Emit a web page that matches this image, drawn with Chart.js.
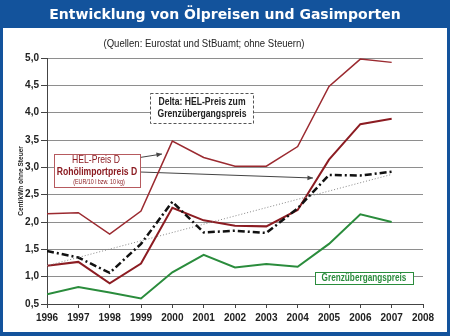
<!DOCTYPE html>
<html>
<head>
<meta charset="utf-8">
<script src="https://cdn.jsdelivr.net/npm/chart.js@4.4.0/dist/chart.umd.min.js"></script>
<style>
  html, body { margin: 0; padding: 0; background: #fff; }
  #wrap { width: 450px; height: 336px; position: relative; }
</style>
</head>
<body>
<div id="wrap"><canvas id="oilChart" width="450" height="336"></canvas></div>
<script>
// ---- data (Cent/kWh ohne Steuer) ----
const years      = [1996, 1997, 1998, 1999, 2000, 2001, 2002, 2003, 2004, 2005, 2006, 2007];
const helPreis   = [2.15, 2.17, 1.78, 2.20, 3.48, 3.18, 3.02, 3.02, 3.38, 4.48, 4.98, 4.92];
const rohoel     = [1.20, 1.27, 0.88, 1.24, 2.26, 2.03, 1.93, 1.92, 2.22, 3.14, 3.79, 3.89];
const grenzPreis = [0.68, 0.81, 0.71, 0.60, 1.08, 1.40, 1.17, 1.23, 1.18, 1.60, 2.14, 2.00];
const deltaPreis = [1.47, 1.35, 1.07, 1.60, 2.37, 1.81, 1.84, 1.80, 2.25, 2.86, 2.85, 2.92];
const trendYears = [1996, 2007];
const trendVals  = [1.20, 2.87];
const yTicks     = [0.5, 1.0, 1.5, 2.0, 2.5, 3.0, 3.5, 4.0, 4.5, 5.0];
const xTicks     = [1996, 1997, 1998, 1999, 2000, 2001, 2002, 2003, 2004, 2005, 2006, 2007, 2008];

const COLORS = {
  frame:   '#13539c',
  hel:     '#9b2a30',
  rohoel:  '#8c1c22',
  green:   '#2a8c3c',
  delta:   '#111111',
  trend:   '#888888',
  grid:    '#8e8e8e',
  axis:    '#444444',
  text:    '#222222',
};
const SANS = "'Liberation Sans', Arial, sans-serif";

const pts = (xs, ys) => xs.map((x, i) => ({ x, y: ys[i] }));

// Arial Narrow look-alike: squeeze Liberation Sans horizontally
function narrowText(c, text, x, y, font, squeeze = 0.82) {
  c.save();
  c.font = font;
  c.translate(x, y);
  c.scale(squeeze, 1);
  c.fillText(text, 0, 0);
  c.restore();
}

// ---- frame, title, subtitle, axis title ----
const framePlugin = {
  id: 'frame',
  beforeDraw(chart) {
    const c = chart.ctx, W = chart.width, H = chart.height;
    c.save();
    c.fillStyle = '#fff';
    c.fillRect(0, 0, W, H);
    c.fillStyle = COLORS.frame;
    c.fillRect(0, 0, W, 28);
    c.fillRect(0, 0, 3, H);
    c.fillRect(W - 3, 0, 3, H);
    c.fillRect(0, H - 4, W, 4);

    // title, fitted to the width of the original
    const title = 'Entwicklung von Ölpreisen und Gasimporten';
    c.font = "bold 20px 'DejaVu Sans', sans-serif";
    const size = 20 * 352 / c.measureText(title).width;
    c.font = `bold ${size.toFixed(1)}px 'DejaVu Sans', sans-serif`;
    c.fillStyle = '#fff';
    c.textAlign = 'center';
    c.textBaseline = 'middle';
    c.fillText(title, 225, 15);

    c.fillStyle = COLORS.text;
    narrowText(c, '(Quellen: Eurostat und StBuamt; ohne Steuern)', 204, 44, `11px ${SANS}`, 0.87);

    c.translate(21, 181);
    c.rotate(-Math.PI / 2);
    narrowText(c, 'Cent/kWh ohne Steuer', 0, 0, `bold 7.5px ${SANS}`, 0.87);
    c.restore();
  }
};

// ---- text boxes and arrows ----
function arrow(c, x1, y1, x2, y2) {
  const a = Math.atan2(y2 - y1, x2 - x1);
  c.beginPath();
  c.moveTo(x1, y1);
  c.lineTo(x2, y2);
  c.stroke();
  c.beginPath();
  c.moveTo(x2, y2);
  c.lineTo(x2 - 6 * Math.cos(a - 0.4), y2 - 6 * Math.sin(a - 0.4));
  c.lineTo(x2 - 6 * Math.cos(a + 0.4), y2 - 6 * Math.sin(a + 0.4));
  c.closePath();
  c.fill();
}

const notesPlugin = {
  id: 'notes',
  beforeDatasetsDraw(chart) {
    const c = chart.ctx;
    c.save();
    c.textAlign = 'center';
    c.textBaseline = 'middle';

    // arrows
    c.strokeStyle = '#444';
    c.fillStyle = '#444';
    c.lineWidth = 1;
    arrow(c, 124, 160, 162, 154);
    arrow(c, 140, 172, 313, 178);

    // Delta box
    c.fillStyle = '#fff';
    c.fillRect(150, 93, 103, 30);
    c.setLineDash([3, 2]);
    c.strokeStyle = '#555';
    c.strokeRect(150.5, 93.5, 103, 30);
    c.setLineDash([]);
    c.fillStyle = COLORS.text;
    narrowText(c, 'Delta: HEL-Preis zum', 202, 102, `bold 10.5px ${SANS}`);
    narrowText(c, 'Grenzübergangspreis', 202, 114, `bold 10.5px ${SANS}`);

    // legend box for the oil prices
    c.fillStyle = '#fff';
    c.fillRect(54, 154, 86, 33);
    c.strokeStyle = '#b65a5e';
    c.strokeRect(54.5, 154.5, 86, 33);
    c.fillStyle = COLORS.rohoel;
    narrowText(c, 'HEL-Preis D', 96, 160, `10.5px ${SANS}`);
    narrowText(c, 'Rohölimportpreis D', 97, 172, `bold 10.5px ${SANS}`);
    narrowText(c, '(EUR/10 l bzw. 10 kg)', 99, 182.5, `6.5px ${SANS}`);

    // Grenzübergangspreis box
    c.fillStyle = '#fff';
    c.fillRect(315, 272, 98, 12);
    c.strokeStyle = COLORS.green;
    c.strokeRect(315.5, 272.5, 98, 12);
    c.fillStyle = COLORS.green;
    narrowText(c, 'Grenzübergangspreis', 364, 278.5, `bold 10px ${SANS}`);
    c.restore();
  }
};

new Chart(document.getElementById('oilChart'), {
  type: 'line',
  data: {
    datasets: [
      {
        label: 'Trend',
        data: pts(trendYears, trendVals),
        borderColor: COLORS.trend,
        borderWidth: 1,
        borderDash: [1, 2],
      },
      {
        label: 'Delta',
        data: pts(years, deltaPreis),
        borderColor: COLORS.delta,
        borderWidth: 2.5,
        borderDash: [7, 3, 2, 3],
      },
      {
        label: 'Grenzübergangspreis',
        data: pts(years, grenzPreis),
        borderColor: COLORS.green,
        borderWidth: 2,
      },
      {
        label: 'Rohölimportpreis D',
        data: pts(years, rohoel),
        borderColor: COLORS.rohoel,
        borderWidth: 2,
      },
      {
        label: 'HEL-Preis D',
        data: pts(years, helPreis),
        borderColor: COLORS.hel,
        borderWidth: 1.5,
      },
    ]
  },
  options: {
    responsive: false,
    animation: false,
    elements: { point: { radius: 0 }, line: { tension: 0, fill: false } },
    layout: { padding: { top: 58, right: 27, left: 0, bottom: 0 } },
    plugins: {
      legend: { display: false },
      tooltip: { enabled: false },
    },
    scales: {
      x: {
        type: 'linear',
        min: 1996,
        max: 2008,
        afterFit(scale) { scale.height = 32; },
        afterBuildTicks(scale) { scale.ticks = xTicks.map(v => ({ value: v })); },
        ticks: {
          callback: v => String(v),
          color: COLORS.text,
          font: { family: SANS, size: 10, weight: 'bold' },
          padding: 4,
          maxRotation: 0,
          autoSkip: false,
        },
        grid: { drawOnChartArea: false, drawTicks: true, tickLength: 4, color: COLORS.axis },
        border: { color: COLORS.axis, width: 1 },
      },
      y: {
        min: 0.5,
        max: 5.0,
        afterFit(scale) { scale.width = 47; },
        afterBuildTicks(scale) { scale.ticks = yTicks.map(v => ({ value: v })); },
        ticks: {
          callback: v => v.toFixed(1).replace('.', ','),
          color: COLORS.text,
          font: { family: SANS, size: 10, weight: 'bold' },
          padding: 2,
        },
        grid: { color: COLORS.grid, tickColor: COLORS.axis, tickLength: 6 },
        border: { color: COLORS.axis, width: 1 },
      }
    }
  },
  plugins: [framePlugin, notesPlugin]
});
</script>
</body>
</html>
